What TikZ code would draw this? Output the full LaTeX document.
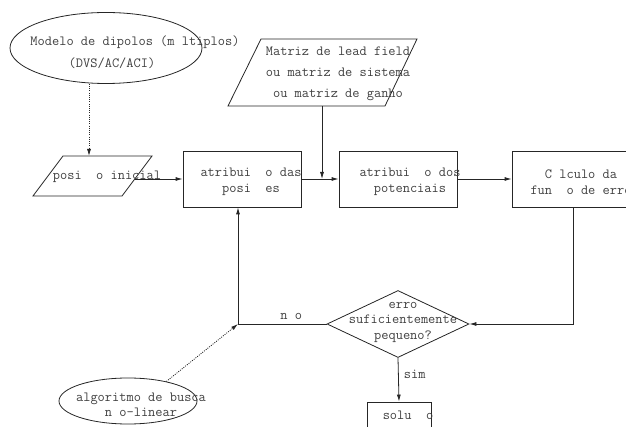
\documentclass[tikz,border=0pt]{standalone}
\usepackage{fontspec}
\usetikzlibrary{shapes.geometric,arrows.meta}

\begin{document}
\begin{tikzpicture}[x=1pt, y=-1pt,
  font=\ttfamily\fontsize{14}{16}\selectfont, text=black!75,
  line/.style={draw=black!85, line width=0.8pt},
  box/.style={line, rectangle, inner sep=0pt},
  oval/.style={line, ellipse, inner sep=0pt},
  txt/.style={align=center, inner sep=0pt},
  arr/.style={line, -{Latex[length=7pt, width=4pt]}},
  dotarr/.style={line, dash pattern=on 1pt off 1.2pt, -{Latex[length=7pt, width=4pt]}}]
  \useasboundingbox (0,0) rectangle (626,427);
  % shapes
  \node[oval, minimum width=192, minimum height=71] (model) at (106,48) {};
  \draw[line] (63,156) -- (152,156) -- (122,196) -- (33,196) -- cycle;
  \coordinate (startN) at (89,156);
  \coordinate (startE) at (135,179);
  \draw[line] (261,39) -- (417,39) -- (385,106) -- (228,106) -- cycle;
  \coordinate (matrixS) at (322,106);
  \node[box, minimum width=118, minimum height=56] (posit) at (242,179) {};
  \node[box, minimum width=118, minimum height=56] (poten) at (398,179) {};
  \node[box, minimum width=122, minimum height=56] (calc) at (573,179) {};
  \node[line, diamond, inner sep=0pt, minimum width=142, minimum height=67] (check) at (398,324) {};
  \node[box, minimum width=64, minimum height=40] (sol) at (399,422) {};
  \node[oval, minimum width=138, minimum height=46] (search) at (128,401) {};
  \coordinate (turn) at (238,324);
  % texts
  \node[txt] (modelA) at (135,42) {Modelo de dipolos (m~ltiplos)};
  \node[txt] (modelB) at (112,63) {(DVS/AC/ACI)};
  \node[txt] (startT) at (107,177) {posi~~o inicial};
  \node[txt] (matrixT) at (338,74) {Matriz de lead field\\[5pt]ou matriz de sistema\\[5pt]ou matriz de ganho};
  \node[txt] (positT) at (251,182) {atribui~~o das\\posi~~es};
  \node[txt] (potenT) at (410,182) {atribui~~o dos\\potenciais};
  \node[txt] (calcT) at (581,182) {C~lculo da\\fun~~o de erro};
  \node[txt, font=\ttfamily\fontsize{14}{15.5}\selectfont] (checkT) at (403,322) {erro\\suficientemente\\pequeno?};
  \node[txt] (solT) at (408,415) {solu~~o};
  \node[txt, font=\ttfamily\fontsize{14}{15}\selectfont] (searchT) at (141,405) {algoritmo de busca\\n~o-linear};
  % connectors
  \draw[dotarr] ([xshift=-17pt]model.south) -- (startN);
  \draw[arr] (startE) -- (posit.west);
  \draw[arr] (posit.east) -- (poten.west);
  \draw[arr] (matrixS) -- (matrixS |- posit.east);
  \draw[arr] (poten.east) -- (calc.west);
  \draw[arr] (calc.south) |- (check.east);
  \draw[arr] (check.west) -- node[pos=0.4, above=4pt, inner sep=0pt] (no) {n~o} (turn) -- (turn |- posit.south);
  \draw[arr] (check.south) -- node[midway, right=5pt, inner sep=0pt, yshift=5pt] (yes) {sim} (sol.north);
  \draw[dotarr] (search.27) -- (turn);
\end{tikzpicture}
\end{document}
